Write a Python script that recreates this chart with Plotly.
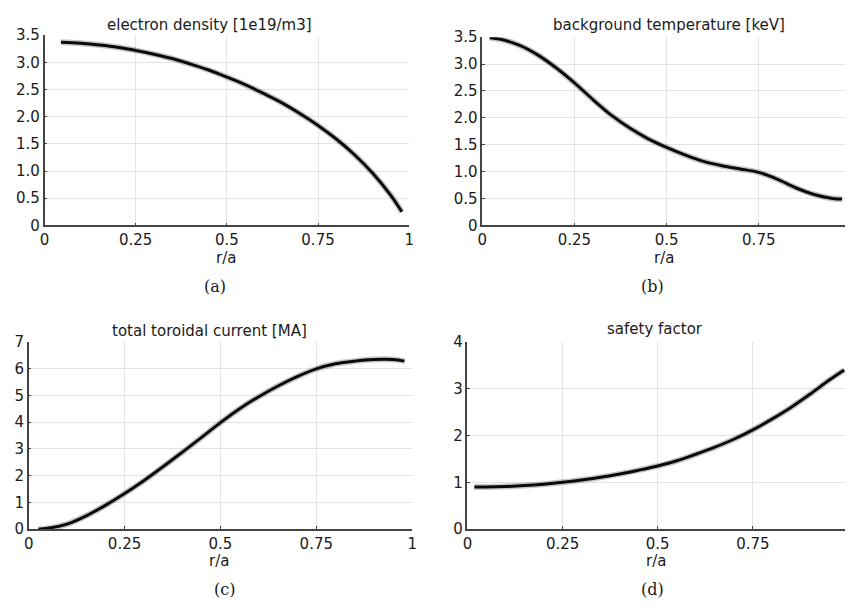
import plotly.graph_objects as go

W, H = 850, 609

# ---- data ----
ne_x = [0.045, 0.1, 0.15, 0.2, 0.25, 0.3, 0.35, 0.4, 0.45, 0.5, 0.55, 0.6, 0.65, 0.7, 0.75, 0.8, 0.85, 0.9, 0.95, 0.98]
ne_y = [3.37, 3.35, 3.32, 3.28, 3.22, 3.15, 3.07, 2.97, 2.86, 2.73, 2.59, 2.43, 2.26, 2.06, 1.84, 1.59, 1.30, 0.96, 0.55, 0.25]

te_x = [0.02, 0.05, 0.1, 0.15, 0.2, 0.25, 0.3, 0.35, 0.4, 0.45, 0.5, 0.55, 0.6, 0.65, 0.7, 0.75, 0.8, 0.85, 0.9, 0.95, 0.976]
te_y = [3.49, 3.46, 3.35, 3.17, 2.93, 2.65, 2.34, 2.05, 1.81, 1.61, 1.45, 1.31, 1.19, 1.11, 1.05, 0.985, 0.86, 0.70, 0.575, 0.50, 0.49]

ip_x = [0.025, 0.05, 0.1, 0.15, 0.2, 0.25, 0.3, 0.35, 0.4, 0.45, 0.5, 0.55, 0.6, 0.65, 0.7, 0.75, 0.8, 0.85, 0.9, 0.95, 0.98]
ip_y = [0.0, 0.03, 0.19, 0.50, 0.89, 1.33, 1.81, 2.33, 2.87, 3.42, 3.98, 4.50, 4.95, 5.35, 5.70, 5.99, 6.18, 6.28, 6.34, 6.34, 6.28]

q_x = [0.018, 0.05, 0.1, 0.15, 0.2, 0.25, 0.3, 0.35, 0.4, 0.45, 0.5, 0.55, 0.6, 0.65, 0.7, 0.75, 0.8, 0.85, 0.9, 0.95, 0.99]
q_y = [0.90, 0.90, 0.91, 0.93, 0.96, 1.00, 1.05, 1.11, 1.18, 1.26, 1.35, 1.46, 1.60, 1.75, 1.92, 2.12, 2.35, 2.60, 2.88, 3.18, 3.40]

titles = ["electron density [1e19/m3]", "background temperature [keV]",
          "total toroidal current [MA]", "safety factor"]
captions = ["(a)", "(b)", "(c)", "(d)"]
xtick_vals = [0, 0.25, 0.5, 0.75, 1]
xtick_text = ["0", "0.25", "0.5", "0.75", "1"]
ytick_vals_a = [0, 0.5, 1.0, 1.5, 2.0, 2.5, 3.0, 3.5]
ytick_text_a = ["0", "0.5", "1.0", "1.5", "2.0", "2.5", "3.0", "3.5"]
ytick_vals_c = [0, 1, 2, 3, 4, 5, 6, 7]
ytick_text_c = ["0", "1", "2", "3", "4", "5", "6", "7"]
ytick_vals_d = [0, 1, 2, 3, 4]
ytick_text_d = ["0", "1", "2", "3", "4"]

# ---- layout geometry in pixels ----
def px(x):
    return x / W

def py(y):
    return 1 - y / H

panels = [
    dict(x0=40, x1=409, xmax=1.0, yt=27, yb=223, yr=3.5, tv=ytick_vals_a, tt=ytick_text_a,
         title=(207, 16), ra=(224, 257), cap=(213, 286), data=(ne_x, ne_y)),
    dict(x0=483, x1=850, xmax=(850 - 483) / 373, yt=29, yb=223, yr=3.5, tv=ytick_vals_a, tt=ytick_text_a,
         title=(672, 16), ra=(667, 257), cap=(655, 286), data=(te_x, te_y)),
    dict(x0=24, x1=412, xmax=1.0, yt=343, yb=536, yr=7, tv=ytick_vals_c, tt=ytick_text_c,
         title=(207, 332), ra=(217, 569), cap=(222, 598), data=(ip_x, ip_y)),
    dict(x0=468, x1=850, xmax=(850 - 468) / 385, yt=343, yb=536, yr=4, tv=ytick_vals_d, tt=ytick_text_d,
         title=(658, 330), ra=(659, 569), cap=(655, 598), data=(q_x, q_y)),
]

FONT = "DejaVu Sans"
TXT = "#1a1a1a"
fig = go.Figure()
annotations = []
layout = dict(width=W, height=H, margin=dict(l=0, r=0, t=0, b=0),
              paper_bgcolor="white", plot_bgcolor="white", showlegend=False)

for i, p in enumerate(panels):
    n = "" if i == 0 else str(i + 1)
    xs, ys = p["data"]
    fig.add_trace(go.Scatter(x=xs, y=ys, mode="lines", xaxis="x" + n, yaxis="y" + n,
                             line=dict(color="rgba(0,0,0,0.22)", width=6, shape="spline", smoothing=1.0),
                             hoverinfo="skip"))
    fig.add_trace(go.Scatter(x=xs, y=ys, mode="lines", xaxis="x" + n, yaxis="y" + n,
                             line=dict(color="#0a0a0a", width=3, shape="spline", smoothing=1.0)))
    common = dict(showgrid=True, gridcolor="#e4e4e4", gridwidth=1,
                  showline=True, linecolor="#444444", linewidth=1.5,
                  ticks="inside", ticklen=3, tickcolor="#444444",
                  tickfont=dict(family=FONT, size=15, color=TXT), zeroline=False,
                  fixedrange=True)
    layout["xaxis" + n] = dict(domain=[px(p["x0"]), px(p["x1"])], range=[0, p["xmax"]],
                               anchor="y" + n, tickvals=xtick_vals, ticktext=xtick_text, **common)
    layout["yaxis" + n] = dict(domain=[py(p["yb"]), py(p["yt"])], range=[0, p["yr"]],
                               anchor="x" + n, tickvals=p["tv"], ticktext=p["tt"], **common)
    annotations.append(dict(x=px(p["title"][0]), y=py(p["title"][1]), xref="paper", yref="paper",
                            text=titles[i], showarrow=False, xanchor="center", yanchor="middle",
                            font=dict(family=FONT, size=15, color=TXT)))
    annotations.append(dict(x=px(p["ra"][0]), y=py(p["ra"][1]), xref="paper", yref="paper",
                            text="r/a", showarrow=False, xanchor="center", yanchor="middle",
                            font=dict(family=FONT, size=15, color=TXT)))
    annotations.append(dict(x=px(p["cap"][0]), y=py(p["cap"][1]), xref="paper", yref="paper",
                            text=captions[i], showarrow=False, xanchor="center", yanchor="middle",
                            font=dict(family="DejaVu Serif", size=16, color=TXT)))

layout["annotations"] = annotations
fig.update_layout(**layout)
fig.write_html("out.html")
